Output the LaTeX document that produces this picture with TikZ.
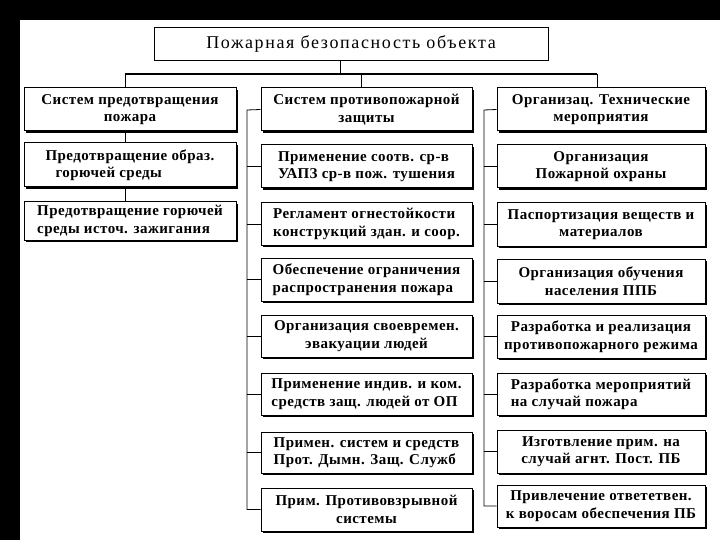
\documentclass[tikz,border=0pt]{standalone}
\usepackage{fontspec}
\setmainfont{Liberation Serif}
\newfontfamily\bfnt[LetterSpace=3]{Liberation Serif Bold}
\newfontfamily\tfnt[LetterSpace=9]{Liberation Serif}
\usetikzlibrary{shadows}
\begin{document}
\begin{tikzpicture}[x=1pt,y=-1pt,
  box/.style={draw, line width=1pt, fill=white, inner sep=0pt, align=center,
    font=\bfnt\fontsize{15}{17.5}\selectfont,
    drop shadow={shadow xshift=2pt, shadow yshift=-2pt, fill=black, opacity=1}},
  tbox/.style={draw, line width=0.8pt, fill=white, inner sep=0pt,
    font=\tfnt\fontsize{18}{20}\selectfont},
  bus/.style={line width=1.8pt},
  stub/.style={line width=0.8pt}]
\useasboundingbox (0,0) rectangle (720,540);
\fill[white] (0,0) rectangle (720,540);
\fill[black] (0,0) rectangle (720,20);
\fill[black] (0,0) rectangle (20,540);
% title
\node[tbox, minimum width=394pt, minimum height=33pt] (title) at (351,43.5) {Пожарная безопасность объекта};
% bus coordinates
\coordinate (tb) at (340,74);
\coordinate (b1) at (125,74);
\coordinate (b2) at (361,74);
\coordinate (b3) at (597,74);
% column 1
\node[box, minimum width=212pt, minimum height=43pt] (a1) at (130,109.5) {Систем предотвращения\\пожара};
\node[box, minimum width=212pt, minimum height=44pt, align=left] (a2) at (130,165) {Предотвращение образ.\\\hspace{10pt}горючей среды};
\node[box, minimum width=212pt, minimum height=38pt, align=left] (a3) at (130,221) {Предотвращение горючей\\среды источ. зажигания};
% column 2
\node[box, minimum width=211pt, minimum height=43pt] (c1) at (366.5,109.5) {Систем противопожарной\\защиты};
\node[box, minimum width=211pt, minimum height=43pt, align=left] (c2) at (366.5,166.5) {Применение соотв. ср-в\\УАПЗ ср-в пож. тушения};
\node[box, minimum width=211pt, minimum height=42pt, align=left] (c3) at (366.5,224) {Регламент огнестойкости\\конструкций здан. и соор.};
\node[box, minimum width=211pt, minimum height=43pt, align=left] (c4) at (366.5,279.5) {Обеспечение ограничения\\распространения пожара};
\node[box, minimum width=211pt, minimum height=42pt] (c5) at (366.5,336) {Организация своевремен.\\эвакуации людей};
\node[box, minimum width=211pt, minimum height=42pt, align=left] (c6) at (366.5,394) {Применение индив. и ком.\\средств защ. людей от ОП};
\node[box, minimum width=211pt, minimum height=41pt, align=left] (c7) at (366.5,452.5) {Примен. систем и средств\\Прот. Дымн. Защ. Служб};
\node[box, minimum width=211pt, minimum height=43pt] (c8) at (366.5,509.5) {Прим. Противовзрывной\\системы};
% column 3
\node[box, minimum width=208pt, minimum height=43pt] (d1) at (601,109.5) {Организац. Технические\\мероприятия};
\node[box, minimum width=208pt, minimum height=43pt] (d2) at (601,166.5) {Организация\\Пожарной охраны};
\node[box, minimum width=208pt, minimum height=43pt] (d3) at (601,224.5) {Паспортизация веществ и\\материалов};
\node[box, minimum width=208pt, minimum height=44pt] (d4) at (601,281) {Организация обучения\\населения ППБ};
\node[box, minimum width=208pt, minimum height=43pt] (d5) at (601,336.5) {Разработка и реализация\\противопожарного режима};
\node[box, minimum width=208pt, minimum height=42pt, align=left] (d6) at (601,394) {Разработка мероприятий\\на случай пожара};
\node[box, minimum width=208pt, minimum height=43pt] (d7) at (601,451.5) {Изготвление прим. на\\случай агнт. Пост. ПБ};
\node[box, minimum width=208pt, minimum height=42pt] (d8) at (601,506) {Привлечение ответетвен.\\к воросам обеспечения ПБ};
% connectors
\draw[stub] (title.south -| tb) -- (tb);
\draw[bus] (b1) -- (b3);
\draw[stub] (b1) -- (b1 |- a1.north);
\draw[stub] (b2) -- (b2 |- c1.north);
\draw[stub] (b3) -- (b3 |- d1.north);
\draw[stub] (a1.south -| b1) -- (a2.north -| b1);
\draw[stub] (a2.south -| b1) -- (a3.north -| b1);
\coordinate (v2) at (247,110);
\coordinate (v3) at (484,110);
\draw[stub] (c1.west) -- (v2) -- (v2 |- c8.west) -- (c8.west);
\foreach \n in {c2,c3,c4,c5,c6,c7} \draw[stub] (v2 |- \n.west) -- (\n.west);
\draw[stub] (d1.west) -- (v3) -- (v3 |- d8.west) -- (d8.west);
\foreach \n in {d2,d3,d4,d5,d6,d7} \draw[stub] (v3 |- \n.west) -- (\n.west);
\end{tikzpicture}
\end{document}
